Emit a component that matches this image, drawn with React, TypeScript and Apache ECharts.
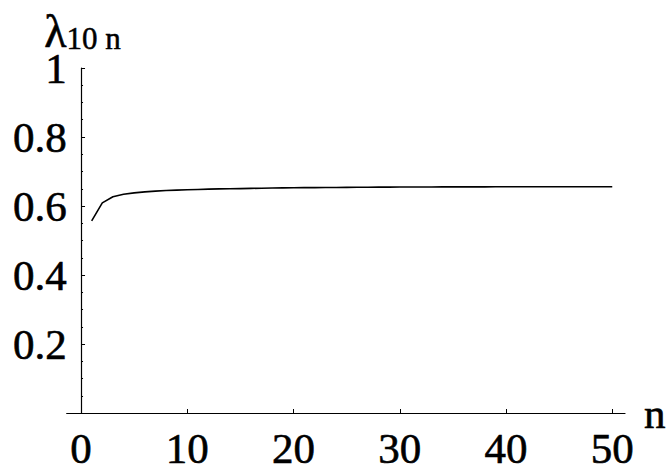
import React, { useEffect, useRef } from "react";
import * as echarts from "echarts";

const nValues = [
  1, 2, 3, 4, 5, 6, 7, 8, 9, 10, 11, 12, 13, 14, 15, 16, 17, 18, 19, 20, 21, 22, 23, 24, 25,
  26, 27, 28, 29, 30, 31, 32, 33, 34, 35, 36, 37, 38, 39, 40, 41, 42, 43, 44, 45, 46, 47, 48, 49, 50,
];
const lambdaValues = [
  0.557, 0.609, 0.627, 0.634, 0.638, 0.641, 0.643, 0.645, 0.646, 0.647, 0.648, 0.649, 0.6495,
  0.65, 0.6505, 0.651, 0.6515, 0.652, 0.6525, 0.653, 0.6532, 0.6534, 0.6536, 0.6538, 0.654,
  0.6542, 0.6544, 0.6546, 0.6548, 0.655, 0.6551, 0.6552, 0.6552, 0.6553, 0.6554, 0.6554, 0.6555,
  0.6555, 0.6556, 0.6556, 0.6557, 0.6557, 0.6558, 0.6558, 0.6558, 0.6559, 0.6559, 0.6559, 0.656,
  0.656,
];
const xTickValues = [0, 10, 20, 30, 40, 50];
const yLabelMap: Record<string, string> = { "0.2": "0.2", "0.4": "0.4", "0.6": "0.6", "0.8": "0.8", "1": "1" };

const FONT = "Liberation Serif";
const FS = 43;
const bold = { textBorderColor: "#000", textBorderWidth: 0.6 };

export default function App() {
  const ref = useRef<HTMLDivElement>(null);
  useEffect(() => {
    if (!ref.current) return;
    const chart = echarts.init(ref.current, undefined, { renderer: "svg" });
    chart.setOption({
      animation: false,
      backgroundColor: "#ffffff",
      textStyle: { fontFamily: FONT },
      grid: { left: 66.7, top: 68, width: 558.3, height: 345 },
      xAxis: {
        type: "value",
        min: -1.35,
        max: 51.2,
        name: "n",
        nameLocation: "end",
        nameGap: 19,
        nameTextStyle: { fontFamily: FONT, fontSize: FS, lineHeight: 40, color: "#000", verticalAlign: "middle", padding: [0, 0, 4, 0], ...bold },
        axisLine: { onZero: true, lineStyle: { color: "#000", width: 1.2 } },
        axisTick: { show: true, inside: true, length: 4, customValues: xTickValues, lineStyle: { color: "#000", width: 1 } },
        axisLabel: {
          customValues: xTickValues,
          fontFamily: FONT,
          fontSize: FS,
          lineHeight: 40,
          color: "#000",
          margin: 15,
          ...bold,
        },
        splitLine: { show: false },
      },
      yAxis: {
        type: "value",
        min: 0,
        max: 1,
        interval: 0.2,
        axisLine: { show: true, onZero: true, lineStyle: { color: "#000", width: 1.2 } },
        axisTick: { show: true, inside: true, length: 4, lineStyle: { color: "#000", width: 1 } },
        minorTick: { show: true, splitNumber: 4, length: 2, lineStyle: { color: "#000", width: 1 } },
        axisLabel: {
          fontFamily: FONT,
          fontSize: FS,
          lineHeight: 32,
          color: "#000",
          margin: 0,
          ...bold,
          formatter: (v: number) => yLabelMap[String(Math.round(v * 10) / 10)] || "",
        },
        splitLine: { show: false },
      },
      graphic: [
        {
          type: "text",
          left: 44,
          top: 8,
          style: {
            text: "{l|λ}{s|10 n}",
            fill: "#000",
            rich: {
              l: { fontFamily: FONT, fontSize: 46, lineHeight: 40, verticalAlign: "bottom", fill: "#000", stroke: "#000", lineWidth: 0.6 },
              s: { fontFamily: FONT, fontSize: 31, lineHeight: 15, verticalAlign: "bottom", fill: "#000", stroke: "#000", lineWidth: 0.5 },
            },
          },
        },
      ],
      series: [
        {
          type: "line",
          data: nValues.map((n, i) => [n, lambdaValues[i]]),
          showSymbol: false,
          symbol: "none",
          lineStyle: { color: "#000", width: 1.6 },
        },
      ],
    });
    return () => chart.dispose();
  }, []);
  return <div ref={ref} style={{ position: "absolute", left: 0, top: 0, width: 669, height: 472 }} />;
}
